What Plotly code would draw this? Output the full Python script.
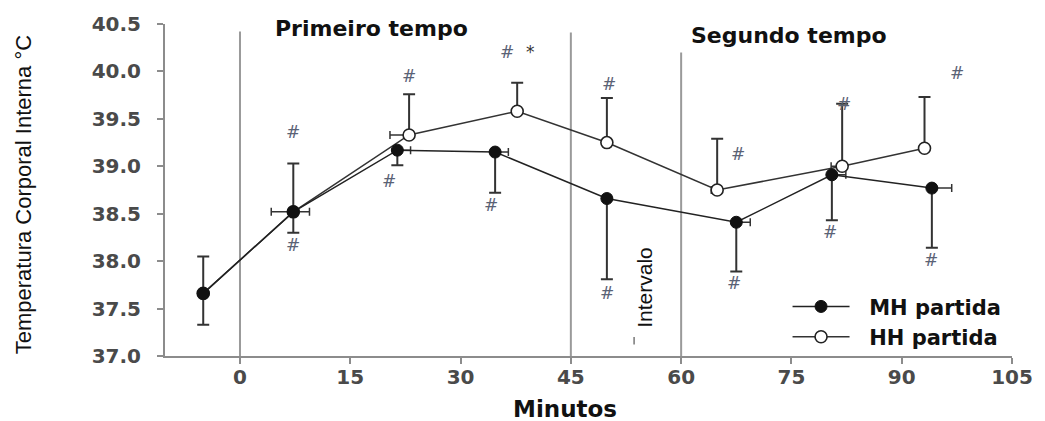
import plotly.graph_objects as go

# ---- data ----
mh_x = [-5.0, 7.25, 21.4, 34.7, 49.9, 67.5, 80.5, 94.1]
mh_y = [37.66, 38.52, 39.17, 39.15, 38.66, 38.41, 38.91, 38.77]
mh_sd = [0.33, 0.22, 0.16, 0.43, 0.85, 0.52, 0.48, 0.63]
mh_xerr = [0, 2.2, 1.8, 1.8, 0, 1.9, 1.9, 2.7]

hh_x = [-5.0, 7.25, 23.0, 37.7, 49.9, 64.9, 81.9, 93.1]
hh_y = [37.66, 38.52, 39.33, 39.58, 39.25, 38.75, 39.00, 39.19]
hh_sd = [0.39, 0.51, 0.43, 0.30, 0.47, 0.54, 0.66, 0.54]
hh_xerr = [0, 3.0, 2.6, 0, 0, 0.8, 1.5, 0]

x_ticks = [0, 15, 30, 45, 60, 75, 90, 105]
period_x = [0, 45, 60]
period_top = [40.42, 40.41, 40.20]

hash_x = [7.25, 7.25, 23.0, 20.3, 36.3, 34.2, 50.2, 49.9, 67.8, 67.2, 82.1, 80.2, 97.5, 94.0]
hash_y = [39.36, 38.17, 39.95, 38.85, 40.21, 38.59, 39.87, 37.66, 39.13, 37.77, 39.66, 38.31, 39.98, 38.01]
star_x = [39.5]
star_y = [40.21]

zeros = [0] * len(mh_x)

fig = go.Figure()

fig.add_trace(go.Scatter(
    x=hh_x, y=hh_y, name="\u00a0\u00a0HH partida", mode="lines+markers",
    line=dict(color="#333333", width=1.5),
    marker=dict(symbol="circle", size=12, color="white", line=dict(color="#222222", width=1.6)),
    error_y=dict(type="data", symmetric=False, array=hh_sd, arrayminus=zeros,
                 color="#333333", thickness=2, width=6),
    error_x=dict(type="data", symmetric=False, array=zeros, arrayminus=hh_xerr,
                 color="#333333", thickness=1.5, width=4),
))
fig.add_trace(go.Scatter(
    x=mh_x, y=mh_y, name="\u00a0\u00a0MH partida", mode="lines+markers",
    line=dict(color="#222222", width=1.5),
    marker=dict(symbol="circle", size=12, color="#111111", line=dict(color="#111111", width=1)),
    error_y=dict(type="data", symmetric=False, array=zeros, arrayminus=mh_sd,
                 color="#333333", thickness=2, width=6),
    error_x=dict(type="data", symmetric=False, array=mh_xerr, arrayminus=zeros,
                 color="#333333", thickness=1.5, width=4),
))

shapes = []
for px, top in zip(period_x, period_top):
    shapes.append(dict(type="line", xref="x", yref="y", x0=px, x1=px, y0=37.0, y1=top,
                       line=dict(color="#9a9a9a", width=2), layer="below"))
# small mark under "Intervalo"
shapes.append(dict(type="line", xref="x", yref="y", x0=53.6, x1=53.6, y0=37.12, y1=37.20,
                   line=dict(color="#777777", width=1.5), layer="below"))

annotations = []
for hx, hy in zip(hash_x, hash_y):
    annotations.append(dict(x=hx, y=hy, xref="x", yref="y", text="#", showarrow=False,
                            font=dict(family="DejaVu Sans", size=17, color="#5a6275", style="italic")))
for sx, sy in zip(star_x, star_y):
    annotations.append(dict(x=sx, y=sy, xref="x", yref="y", text="*", showarrow=False,
                            font=dict(family="DejaVu Sans", size=17, color="#333333")))

annotations += [
    dict(x=17.9, y=40.45, xref="x", yref="y", text="Primeiro tempo", showarrow=False,
         font=dict(family="DejaVu Sans", size=22, color="#111111", weight="bold")),
    dict(x=74.7, y=40.38, xref="x", yref="y", text="Segundo tempo", showarrow=False,
         font=dict(family="DejaVu Sans", size=22, color="#111111", weight="bold")),
    dict(x=55.1, y=37.72, xref="x", yref="y", text="Intervalo", showarrow=False, textangle=-90,
         font=dict(family="Liberation Sans", size=21, color="#111111")),
    dict(x=0.4725, y=-0.16, xref="paper", yref="paper", text="Minutos", showarrow=False,
         xanchor="center", yanchor="middle",
         font=dict(family="DejaVu Sans", size=23, color="#111111", weight="bold")),
    dict(x=-0.1677, y=0.487, xref="paper", yref="paper", text="Temperatura Corporal Interna °C",
         showarrow=False, textangle=-90, xanchor="center", yanchor="middle",
         font=dict(family="Liberation Sans", size=22, color="#111111")),
]

fig.update_layout(
    width=1045, height=421,
    margin=dict(l=165, r=33, t=24, b=65, pad=0),
    paper_bgcolor="white", plot_bgcolor="white",
    shapes=shapes, annotations=annotations,
    showlegend=True,
    legend=dict(x=0.735, y=0.21, xanchor="left", yanchor="top", traceorder="reversed",
                bgcolor="rgba(0,0,0,0)", itemwidth=57,
                font=dict(family="DejaVu Sans", size=21, color="#111111", weight="bold")),
    xaxis=dict(range=[-10.2, 105], tickvals=x_ticks, showgrid=False, zeroline=False,
               showline=True, linecolor="#8c8c8c", linewidth=2,
               ticks="outside", ticklen=6, tickwidth=2, tickcolor="#8c8c8c",
               ticklabelstandoff=-4,
               tickfont=dict(family="DejaVu Sans", size=20, color="#4a4a4a", weight="bold")),
    yaxis=dict(range=[37.0, 40.5], dtick=0.5, tickformat=".1f", showgrid=False, zeroline=False,
               showline=True, linecolor="#8c8c8c", linewidth=2,
               ticks="outside", ticklen=6, tickwidth=2, tickcolor="#8c8c8c",
               ticklabelstandoff=12,
               tickfont=dict(family="DejaVu Sans", size=20, color="#4a4a4a", weight="bold")),
)

fig.write_html("out.html")
